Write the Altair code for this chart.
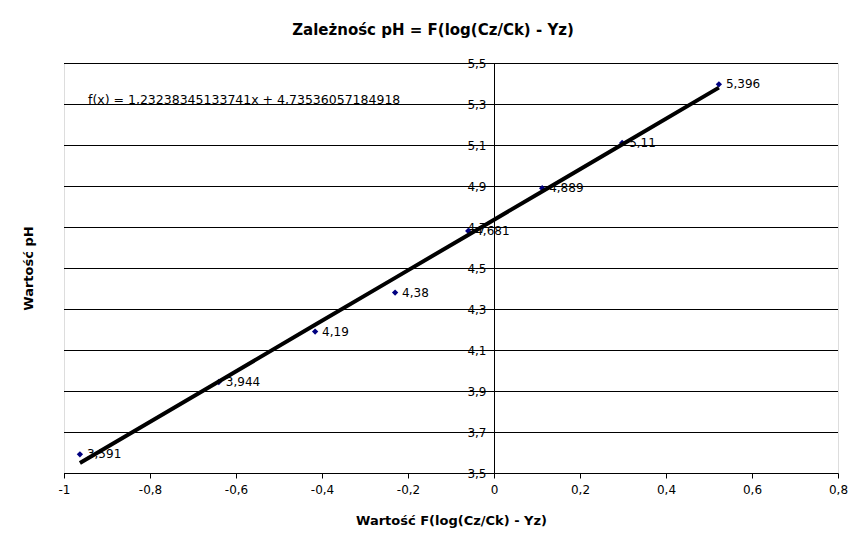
import altair as alt
import pandas as pd

# Data
x_vals = [-0.963, -0.640, -0.416, -0.230, -0.060, 0.112, 0.298, 0.523]
y_vals = [3.591, 3.944, 4.19, 4.38, 4.681, 4.889, 5.11, 5.396]
point_labels = ["3,591", "3,944", "4,19", "4,38", "4,681", "4,889", "5,11", "5,396"]
slope = 1.23238345133741
intercept = 4.73536057184918
equation = "f(x) = 1,23238345133741x + 4,73536057184918"
x_ticks = [-1, -0.8, -0.6, -0.4, -0.2, 0, 0.2, 0.4, 0.6, 0.8]
y_ticks = [3.5, 3.7, 3.9, 4.1, 4.3, 4.5, 4.7, 4.9, 5.1, 5.3, 5.5]

df = pd.DataFrame({"x": x_vals, "y": y_vals, "label": point_labels})
grid_df = pd.DataFrame({"y": y_ticks})

FONT = "DejaVu Sans"
xscale = alt.Scale(domain=[-1, 0.8], nice=False, zero=False)
yscale = alt.Scale(domain=[3.5, 5.5], nice=False, zero=False)

x_axis = alt.Axis(
    values=x_ticks, grid=False, labelExpr="replace(datum.value + '', '.', ',')",
    labelFlush=False,
    title="Wartość F(log(Cz/Ck) - Yz)", titleFont=FONT, titleFontSize=13,
    titleFontWeight="bold", titleColor="black", titlePadding=19,
    labelFont=FONT, labelFontSize=12, labelColor="black", labelPadding=6,
    domainColor="black", tickColor="black", tickSize=5,
)

grid = alt.Chart(grid_df).mark_rule(color="black", strokeWidth=1, yOffset=0.5).encode(
    y=alt.Y("y:Q", scale=yscale, axis=alt.Axis(
        orient="left", grid=False, labels=False, ticks=False, domain=False,
        title="Wartość pH", titleFont=FONT, titleFontSize=13,
        titleFontWeight="bold", titleColor="black", titlePadding=29)),
    x=alt.value(0), x2=alt.value(774),
)

points = alt.Chart(df).mark_point(
    shape="diamond", filled=True, color="#000080", size=40, opacity=1
).encode(
    x=alt.X("x:Q", scale=xscale, axis=x_axis),
    y=alt.Y("y:Q", scale=yscale, axis=alt.Axis(
        orient="left", offset=-430, values=y_ticks, grid=False, title=None,
        labelExpr="replace(datum.value + '', '.', ',')", labelFlush=False,
        labelFont=FONT, labelFontSize=12, labelColor="black", labelPadding=3,
        domainColor="black", tickColor="black", tickSize=5)),
)

labels = alt.Chart(df).mark_text(
    align="left", baseline="middle", dx=7, font=FONT, fontSize=12, color="black"
).encode(
    x=alt.X("x:Q", scale=xscale),
    y=alt.Y("y:Q", scale=yscale, axis=None),
    text="label:N",
)

trend = alt.Chart(df).transform_calculate(
    yfit=f"{slope} * datum.x + {intercept}"
).mark_line(color="black", strokeWidth=4).encode(
    x=alt.X("x:Q", scale=xscale),
    y=alt.Y("yfit:Q", scale=yscale, axis=None),
)

eq = alt.Chart(pd.DataFrame({"t": [equation]})).mark_text(
    align="left", baseline="middle", font=FONT, fontSize=12.5, color="black"
).encode(x=alt.value(24), y=alt.value(37), text="t:N")

chart = alt.layer(grid, points, labels, trend, eq).resolve_axis(y="independent").properties(
    width=774, height=410,
    autosize=alt.AutoSizeParams(type="none"),
    padding={"left": 56, "top": 55, "right": 21, "bottom": 68},
    title=alt.TitleParams("Zależnośc pH = F(log(Cz/Ck) - Yz)", font=FONT, fontSize=15,
                          fontWeight="bold", color="black", anchor="middle", dx=-18, offset=19),
).configure_view(stroke=None).configure(background="white")

chart.save("out.html", embed_options={"renderer": "svg", "actions": False})
